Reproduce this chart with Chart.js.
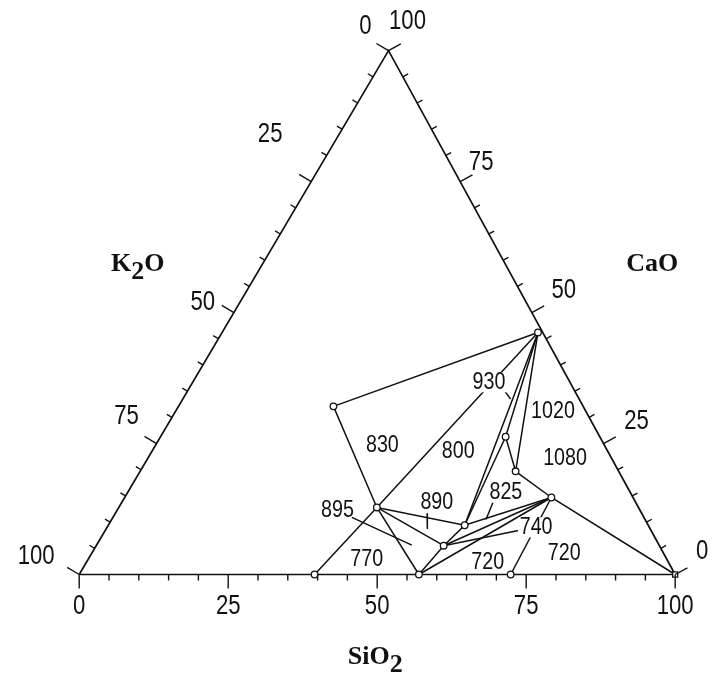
<!DOCTYPE html>
<html>
<head>
<meta charset="utf-8">
<script src="https://cdn.jsdelivr.net/npm/chart.js@4.4.1/dist/chart.umd.min.js"></script>
<style>
  html, body { margin: 0; padding: 0; background: #fff; }
  #wrap { width: 712px; height: 698px; }
</style>
</head>
<body>
<div id="wrap"><canvas id="ternary"></canvas></div>
<script>
// K2O - CaO - SiO2 ternary diagram, liquidus fields (wt %)

// junctions: SiO2 %, CaO % (K2O is the rest)
const pointNames = ['A', 'B', 'C', 'D', 'E', 'F', 'G', 'H', 'I', 'J', 'K', 'L'];
const pointSiO2  = [53.0, 26.0, 43.3, 39.5, 57.0, 72.4, 100, 71.6, 63.0, 58.3, 59.8, 57.9];
const pointCaO   = [46.2, 32.1, 12.8, 0, 0, 0, 0, 14.7, 19.7, 5.5, 9.4, 26.3];

// field boundaries as chains of junctions
const boundaries = [
  ['A', 'B', 'C', 'E'],
  ['D', 'C', 'A'],
  ['C', 'K', 'H'],
  ['C', 'J'],
  ['E', 'J', 'K', 'A'],
  ['A', 'L', 'I'],
  ['L', 'K'],
  ['A', 'I', 'H', 'G'],
  ['E', 'H'],
  ['J', 'H'],
  ['F', 'H'],
];

// short strokes (start, end) : tie line by 895 and label leaders
const strokeSiO2 = [[40.1, 52.9], [52.3, 53.9], [62.3, 62.8], [58.3, 69.7], [52.9, 55.0]];
const strokeCaO  = [[10.9, 5.6], [11.7, 8.7], [13.7, 10.5], [5.5, 8.5], [35.3, 33.5]];

// liquidus temperatures written in the fields
const fieldNames = ['830', '800', '930', '1020', '1080', '825', '890', '895', '770', '720', '740', '720'];
const fieldSiO2  = [38.1, 51.4, 49.7, 63.3, 70.0, 63.5, 52.9, 37.0, 46.8, 67.3, 72.0, 79.3];
const fieldCaO   = [24.6, 23.5, 36.7, 31.2, 22.2, 15.6, 13.7, 12.2, 2.8, 2.4, 9.0, 4.0];

// axis ticks
const tickStep = 5;
const tickLabels = [0, 25, 50, 75, 100];

// the scanned triangle leans a bit: apex sits over 51.9 on the base
const SKEW = 0.519;
const toXY = (s, c) => ({ x: s + SKEW * c, y: c });

const idx = name => pointNames.indexOf(name);
const junction = name => toXY(pointSiO2[idx(name)], pointCaO[idx(name)]);

const INK = '#111';

const datasets = [];

// junction markers on top
datasets.push({
  data: pointNames.filter(n => n !== 'G').map(junction),
  showLine: false,
  pointRadius: 3.3,
  pointBackgroundColor: '#fff',
  pointBorderColor: INK,
  pointBorderWidth: 1.3,
  order: 0,
});
datasets.push({
  data: [junction('G')],
  showLine: false,
  pointStyle: 'rect',
  pointRadius: 3.6,
  pointBackgroundColor: '#fff',
  pointBorderColor: INK,
  pointBorderWidth: 1.3,
  order: 0,
});

// triangle frame
datasets.push({
  data: [toXY(0, 0), toXY(100, 0), toXY(0, 100), toXY(0, 0)],
  showLine: true,
  borderColor: INK,
  borderWidth: 1.7,
  pointRadius: 0,
  order: 2,
});

boundaries.forEach(chain => {
  datasets.push({
    data: chain.map(junction),
    showLine: true,
    borderColor: INK,
    borderWidth: 1.5,
    pointRadius: 0,
    order: 1,
  });
});

strokeSiO2.forEach((s, i) => {
  datasets.push({
    data: [toXY(s[0], strokeCaO[i][0]), toXY(s[1], strokeCaO[i][1])],
    showLine: true,
    borderColor: INK,
    borderWidth: 1.5,
    pointRadius: 0,
    order: 1,
  });
});

const narrowText = (ctx, str, cx, cy, size, knockout) => {
  ctx.save();
  ctx.translate(cx, cy);
  ctx.scale(0.82, 1);
  ctx.font = size + 'px "Liberation Sans", Arial, sans-serif';
  ctx.textAlign = 'center';
  ctx.textBaseline = 'middle';
  if (knockout) {
    const w = ctx.measureText(str).width;
    ctx.fillStyle = '#fff';
    ctx.fillRect(-w / 2 - 2, -size * 0.42, w + 4, size * 0.84);
  }
  ctx.fillStyle = INK;
  ctx.fillText(str, 0, 0);
  ctx.restore();
};

// formula with subscripts, e.g. [['K'], ['2', true], ['O']]
const chemText = (ctx, parts, cx, cy) => {
  ctx.save();
  ctx.font = 'bold 26px "Liberation Serif", "Times New Roman", serif';
  ctx.textBaseline = 'middle';
  ctx.textAlign = 'left';
  const total = parts.reduce((w, p) => w + ctx.measureText(p[0]).width, 0);
  let xx = cx - total / 2;
  ctx.fillStyle = INK;
  parts.forEach(p => {
    ctx.fillText(p[0], xx, p[1] ? cy + 8 : cy);
    xx += ctx.measureText(p[0]).width;
  });
  ctx.restore();
};

// where each tick label sits relative to its tick (pixels)
const leftOffsets   = { 0: [-23, -24], 25: [-41, -47], 50: [-31, -10], 75: [-30, -27], 100: [-43, -18] };
const rightOffsets  = { 0: [27, -23], 25: [33, -22], 50: [32, -22], 75: [21, -19], 100: [19, -29] };
const bottomOffset  = [0, 32];

const ternaryDecor = {
  id: 'ternaryDecor',
  afterDatasetsDraw(chart) {
    const { ctx, scales: { x, y } } = chart;
    const px = (s, c) => {
      const p = toXY(s, c);
      return [x.getPixelForValue(p.x), y.getPixelForValue(p.y)];
    };
    const bl = px(0, 0), br = px(100, 0), top = px(0, 100);
    const unit = (a, b) => {
      const dx = b[0] - a[0], dy = b[1] - a[1], l = Math.hypot(dx, dy);
      return [dx / l, dy / l];
    };
    const dl = unit(bl, top), dr = unit(br, top);
    const nLeft = [dl[1], -dl[0]];
    const nRight = [-dr[1], dr[0]];
    const nBottom = [0, 1];

    ctx.save();
    ctx.strokeStyle = INK;
    ctx.lineWidth = 1.4;
    const tick = (p, n, len) => {
      ctx.beginPath();
      ctx.moveTo(p[0], p[1]);
      ctx.lineTo(p[0] + n[0] * len, p[1] + n[1] * len);
      ctx.stroke();
    };
    for (let v = 0; v <= 100; v += tickStep) {
      const len = v % 25 === 0 ? 14 : 6;
      tick(px(v, 0), nBottom, len);             // SiO2
      tick(px(0, 100 - v), nLeft, len);         // K2O
      tick(px(100 - v, v), nRight, len);        // CaO
    }
    ctx.restore();

    tickLabels.forEach(v => {
      const b = px(v, 0);
      narrowText(ctx, String(v), b[0] + bottomOffset[0], b[1] + bottomOffset[1], 27);
      const l = px(0, 100 - v);
      narrowText(ctx, String(v), l[0] + leftOffsets[v][0], l[1] + leftOffsets[v][1], 27);
      const r = px(100 - v, v);
      narrowText(ctx, String(v), r[0] + rightOffsets[v][0], r[1] + rightOffsets[v][1], 27);
    });

    fieldNames.forEach((t, i) => {
      const p = px(fieldSiO2[i], fieldCaO[i]);
      narrowText(ctx, t, p[0], p[1], 24, t === '930' || t === '740');
    });

    // component names
    const mL = px(0, 60), mR = px(40, 60), mB = px(50, 0);
    chemText(ctx, [['K'], ['2', true], ['O']], mL[0] - 127, mL[1] + 4);
    chemText(ctx, [['CaO']], mR[0] + 149, mR[1] + 4);
    chemText(ctx, [['SiO'], ['2', true]], mB[0] - 2, mB[1] + 83);
  }
};

new Chart(document.getElementById('ternary').getContext('2d'), {
  type: 'scatter',
  data: { datasets: datasets },
  options: {
    responsive: true,
    maintainAspectRatio: false,
    animation: false,
    layout: { padding: 0 },
    plugins: { legend: { display: false }, tooltip: { enabled: false } },
    scales: {
      x: { type: 'linear', min: -12.4, max: 105.29, display: false },
      y: { type: 'linear', min: -22.56, max: 108.65, display: false },
    },
  },
  plugins: [ternaryDecor],
});
</script>
</body>
</html>
